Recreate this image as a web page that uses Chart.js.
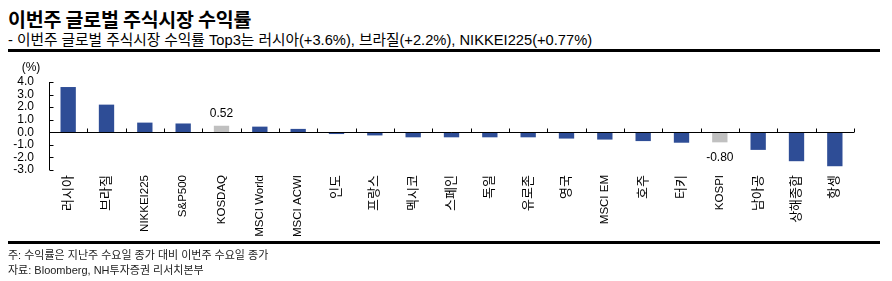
<!DOCTYPE html>
<html>
<head>
  <meta charset="UTF-8">
  <title>이번주 글로벌 주식시장 수익률</title>
  <script src="https://cdn.jsdelivr.net/npm/chart.js"></script>
  <style>
    body { margin: 0; background: #fff; font-family: "Liberation Sans", Arial, "Noto Sans CJK KR", sans-serif; }
    #wrap { position: relative; width: 892px; height: 281px; overflow: hidden; }
    .t { position: absolute; left: 8px; white-space: nowrap; color: #000; }
    #title { top: 4px; font-size: 19.5px; font-weight: bold; font-family: "Noto Sans CJK KR", sans-serif; letter-spacing: -0.2px; }
    #sub { top: 28px; font-size: 14.7px; font-family: "Liberation Sans", "Noto Sans CJK KR", sans-serif; }
    .rule { position: absolute; left: 8px; width: 872px; height: 3px; background: #000; }
    .note { position: absolute; left: 8px; font-size: 11px; color: #222; white-space: nowrap; font-family: "Liberation Sans", "Noto Sans CJK KR", sans-serif; }
    canvas { position: absolute; left: 0; top: 0; }
  </style>
</head>
<body>
<div id="wrap">
  <div id="title" class="t">이번주 글로벌 주식시장 수익률</div>
  <div id="sub" class="t">- 이번주 글로벌 주식시장 수익률 Top3는 러시아(+3.6%), 브라질(+2.2%), NIKKEI225(+0.77%)</div>
  <div class="rule" style="top:49px"></div>
  <canvas id="chart" width="892" height="281"></canvas>
  <div class="rule" style="top:241px"></div>
  <div class="note" style="top:246px">주: 수익률은 지난주 수요일 종가 대비 이번주 수요일 종가</div>
  <div class="note" style="top:261px">자료: Bloomberg, NH투자증권 리서치본부</div>
</div>

<script>
  const categories = ['러시아', '브라질', 'NIKKEI225', 'S&P500', 'KOSDAQ', 'MSCI World', 'MSCI ACWI', '인도', '프랑스', '멕시코',
    '스페인', '독일', '유로존', '영국', 'MSCI EM', '호주', '터키', 'KOSPI', '남아공', '상해종합', '항셍'];
  const returns = [3.6, 2.2, 0.77, 0.7, 0.52, 0.45, 0.27, -0.14, -0.25, -0.4,
    -0.4, -0.4, -0.4, -0.5, -0.58, -0.7, -0.83, -0.80, -1.4, -2.3, -2.7];
  const highlighted = ['KOSDAQ', 'KOSPI'];
  const yTicks = [4, 3, 2, 1, 0, -1, -2, -3];

  const BLUE = '#2E4D96';
  const GRAY = '#C0C0C0';
  const isKorean = s => /[\uAC00-\uD7A3]/.test(s);

  // axis lines, inward ticks, unit label and value labels for the highlighted bars
  const axisPlugin = {
    id: 'axisPlugin',
    afterDatasetsDraw(chart) {
      const ctx = chart.ctx;
      const x = chart.scales.x, y = chart.scales.y;
      const y0 = Math.round(y.getPixelForValue(0)) + 0.5;
      const left = Math.round(x.left) + 0.5;
      const half = x.getPixelForValue(1) - x.getPixelForValue(0);
      ctx.save();
      ctx.strokeStyle = '#000';
      ctx.lineWidth = 1;
      ctx.beginPath();
      // y axis
      ctx.moveTo(left, y.getPixelForValue(4));
      ctx.lineTo(left, y.getPixelForValue(-3));
      yTicks.forEach(v => {
        const py = Math.round(y.getPixelForValue(v)) + 0.5;
        ctx.moveTo(left, py);
        ctx.lineTo(left + 4, py);
      });
      // zero line with category boundary ticks
      const right = x.getPixelForValue(categories.length - 1) + half / 2;
      ctx.moveTo(left, y0);
      ctx.lineTo(right, y0);
      for (let i = 0; i < categories.length; i++) {
        const px = Math.round(x.getPixelForValue(i) + half / 2) + 0.5;
        ctx.moveTo(px, y0);
        ctx.lineTo(px, y0 - 4);
      }
      ctx.stroke();

      ctx.fillStyle = '#000';
      ctx.font = '12px "Liberation Sans", Arial, sans-serif';
      ctx.textAlign = 'center';
      ctx.textBaseline = 'middle';
      ctx.fillText('(%)', 31, 68);

      const meta = chart.getDatasetMeta(0);
      categories.forEach((c, i) => {
        if (!highlighted.includes(c)) return;
        const bar = meta.data[i];
        const v = returns[i];
        const ty = v >= 0 ? bar.y - 12 : bar.y + 15;
        ctx.fillText(v.toFixed(2), bar.x, ty);
      });
      ctx.restore();
    }
  };

  new Chart(document.getElementById('chart'), {
    type: 'bar',
    data: {
      labels: categories,
      datasets: [{
        data: returns,
        backgroundColor: categories.map(c => highlighted.includes(c) ? GRAY : BLUE),
        barPercentage: 0.8,
        categoryPercentage: 0.5
      }]
    },
    options: {
      responsive: false,
      animation: false,
      events: [],
      layout: { padding: { left: 0, right: 38, top: 82, bottom: 37 } },
      plugins: { legend: { display: false }, tooltip: { enabled: false } },
      scales: {
        x: {
          grid: { display: false, drawTicks: false },
          border: { display: false },
          afterFit: s => { s.height = 74; },
          ticks: {
            autoSkip: false,
            minRotation: 90,
            maxRotation: 90,
            padding: 5,
            color: '#000',
            font: c => ({
              size: isKorean(categories[c.index] || '') ? 13 : 11.5,
              family: '"Liberation Sans", Arial, "Noto Sans CJK KR", sans-serif'
            })
          }
        },
        y: {
          min: -3,
          max: 4,
          grid: { display: false, drawTicks: false },
          border: { display: false },
          afterFit: s => { s.width = 49; },
          afterBuildTicks: s => { s.ticks = yTicks.map(v => ({ value: v })); },
          ticks: {
            autoSkip: false,
            padding: 15,
            color: '#000',
            font: { size: 12, family: '"Liberation Sans", Arial, sans-serif' },
            callback: v => v.toFixed(1)
          }
        }
      }
    },
    plugins: [axisPlugin]
  });
</script>
</body>
</html>
